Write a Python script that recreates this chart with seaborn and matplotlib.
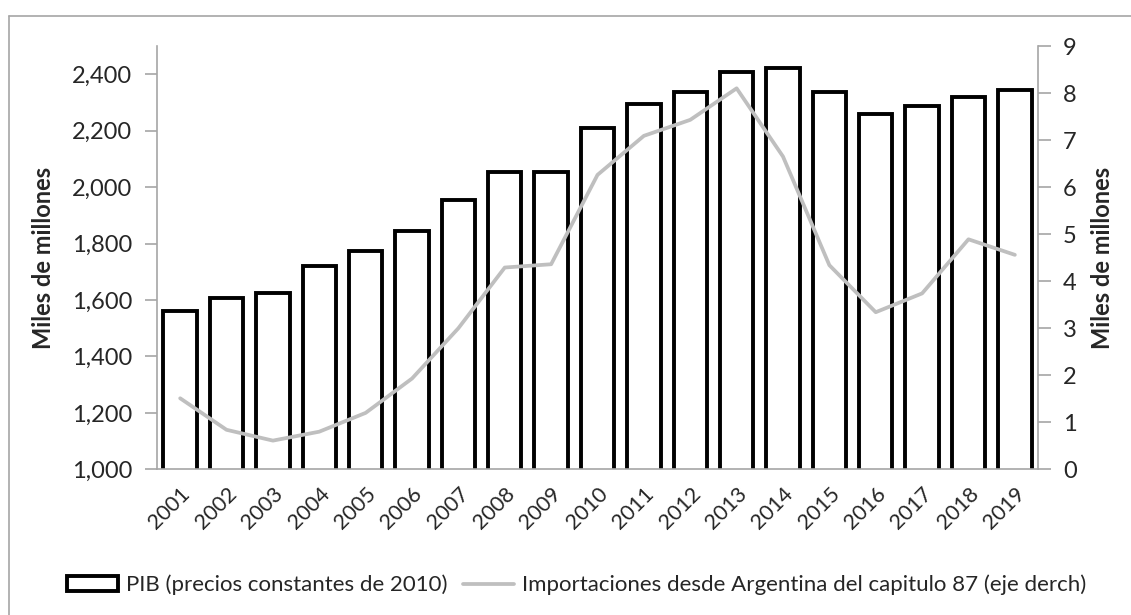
import matplotlib
matplotlib.use("Agg")
import matplotlib.pyplot as plt
from matplotlib.patches import Patch
from matplotlib.lines import Line2D
from matplotlib.ticker import FuncFormatter
import numpy as np
import pandas as pd
import seaborn as sns

# Annual series
years = ["2001", "2002", "2003", "2004", "2005", "2006", "2007", "2008", "2009", "2010",
         "2011", "2012", "2013", "2014", "2015", "2016", "2017", "2018", "2019"]
pib = [1560, 1606, 1626, 1720, 1775, 1846, 1955, 2054, 2052, 2208,
       2294, 2338, 2408, 2421, 2337, 2258, 2288, 2320, 2345]
importaciones = [1.51, 0.84, 0.61, 0.80, 1.20, 1.93, 3.00, 4.29, 4.36, 6.26,
                 7.09, 7.43, 8.10, 6.65, 4.34, 3.34, 3.74, 4.89, 4.56]

left_ticks = [1000, 1200, 1400, 1600, 1800, 2000, 2200, 2400]
right_ticks = [0, 1, 2, 3, 4, 5, 6, 7, 8, 9]

label_pib = "PIB (precios constantes de 2010)"
label_imp = "Importaciones desde Argentina del capitulo 87 (eje derch)"
axis_label = "Miles de millones"

df = pd.DataFrame({"anio": years, "pib": pib, "imp": importaciones})

sns.set_theme(style="white")
plt.rcParams["font.family"] = ["Lato", "DejaVu Sans"]

axis_grey = "#a6a6a6"
line_grey = "#bfbfbf"
tick_size = 17

fig = plt.figure(figsize=(11.31, 6.15), dpi=100)
ax = fig.add_axes([0.1388, 0.2369, 0.9178 - 0.1388, 0.9252 - 0.2369])

sns.barplot(data=df, x="anio", y="pib", ax=ax, color="white", edgecolor="black",
            linewidth=2.8, width=0.72, saturation=1)
ax.set_ylim(1000, 2500)
ax.set_xlim(-0.5, len(years) - 0.5)

ax2 = ax.twinx()
sns.pointplot(data=df, x="anio", y="imp", ax=ax2, color=line_grey, markers="",
              linewidth=2.7)
ax2.set_ylim(0, 9)
ax2.set_xlim(-0.5, len(years) - 0.5)

# Left axis
ax.set_yticks(left_ticks)
ax.yaxis.set_major_formatter(FuncFormatter(lambda v, p: f"{int(v):,}"))
ax.set_ylabel(axis_label, fontsize=17, fontweight="bold", labelpad=12)
ax.set_xlabel("")
ax2.set_xlabel("")

# Right axis
ax2.set_yticks(right_ticks)
ax2.set_ylabel(axis_label, fontsize=17, fontweight="bold", labelpad=10)

# Category boundaries as bottom ticks
ax.set_xticks(np.arange(len(years)))
ax.set_xticklabels(years, rotation=45, ha="right", rotation_mode="anchor", fontsize=15.5)
ax.set_xticks(np.arange(len(years) + 1) - 0.5, minor=True)
ax.tick_params(axis="x", which="major", length=0, pad=10)
ax.tick_params(axis="x", which="minor", length=9, color=axis_grey, width=1.2, direction="out")
ax.tick_params(axis="y", length=9, color=axis_grey, width=1.2, direction="out",
               labelsize=tick_size, pad=9, left=True)
ax2.tick_params(axis="y", length=9, color=axis_grey, width=1.2, direction="out",
                labelsize=tick_size, pad=9, right=True)
ax2.tick_params(axis="x", bottom=False, labelbottom=False)

for a in (ax, ax2):
    a.spines["top"].set_visible(False)
    for side in ("left", "right", "bottom"):
        a.spines[side].set_color(axis_grey)
        a.spines[side].set_linewidth(1.2)
ax.spines["right"].set_visible(False)
ax2.spines["left"].set_visible(False)
ax2.spines["bottom"].set_visible(False)
ax.grid(False)
ax2.grid(False)
ax.set_zorder(ax2.get_zorder() - 1)
ax2.patch.set_visible(False)

# Legend
handles = [Patch(facecolor="white", edgecolor="black", linewidth=2.8, label=label_pib),
           Line2D([0], [0], color=line_grey, linewidth=2.7, label=label_imp)]
fig.legend(handles=handles, loc="center", bbox_to_anchor=(0.51, 1 - 585 / 615), ncol=2,
           frameon=False, fontsize=16, handlelength=2.3, handleheight=0.65,
           columnspacing=0.7, handletextpad=0.35)

# Chart frame
fig.add_artist(Line2D([9 / 1131, 9 / 1131], [0, 1 - 16 / 615], color=axis_grey, linewidth=1.2))
fig.add_artist(Line2D([9 / 1131, 1], [1 - 16 / 615, 1 - 16 / 615], color=axis_grey, linewidth=1.2))

fig.savefig("out.png", dpi=100)
